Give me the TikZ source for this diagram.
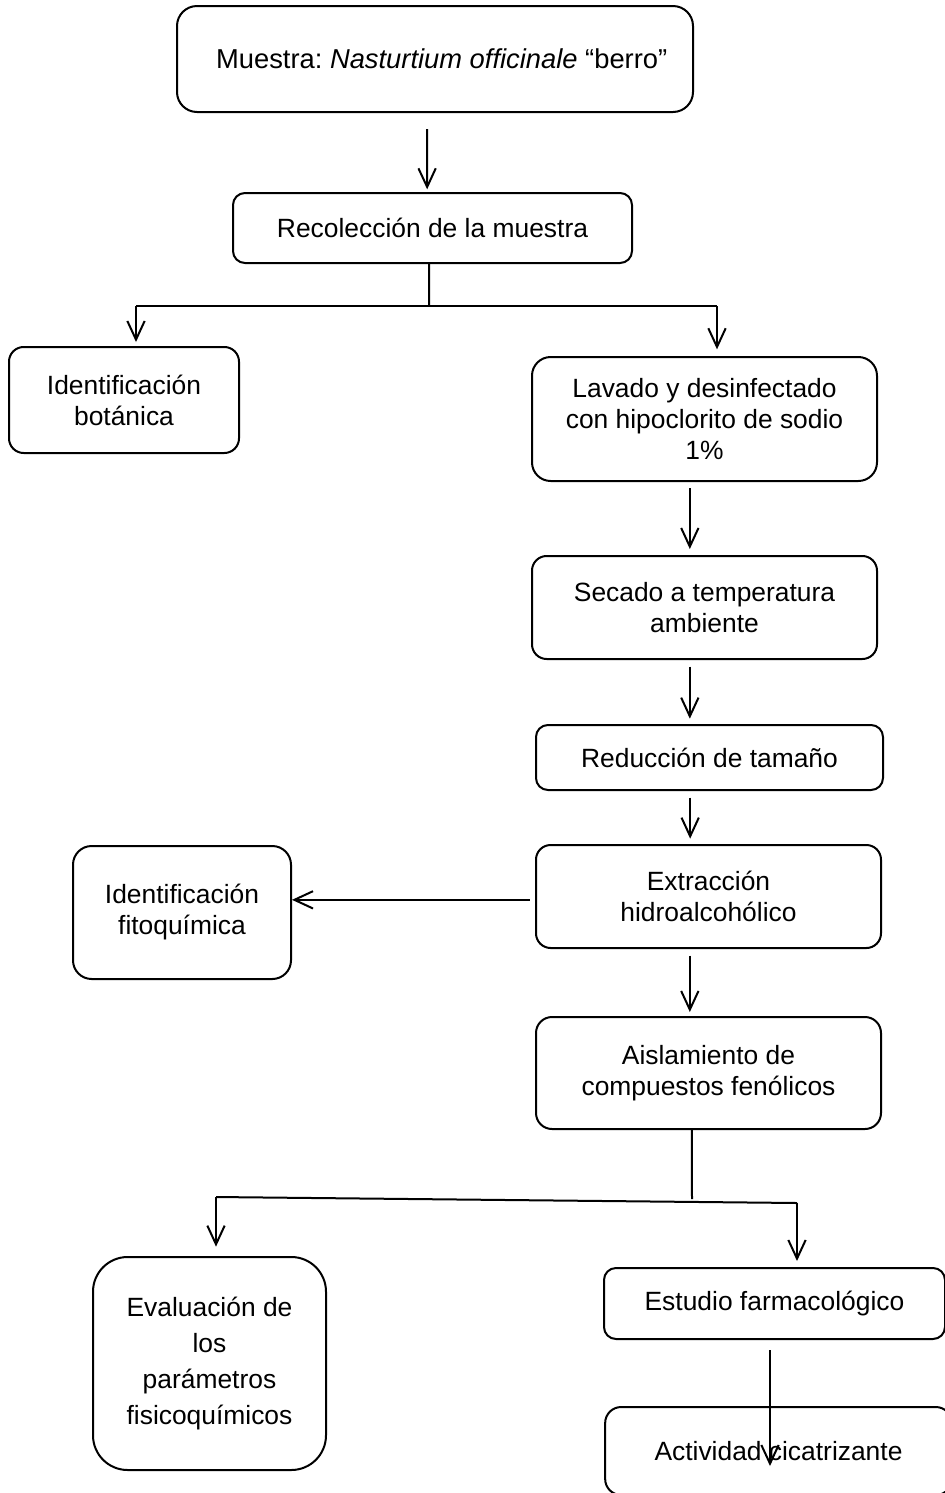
\documentclass[tikz,border=0pt]{standalone}
\usepackage{fontspec}
\setmainfont{Liberation Sans}
\usetikzlibrary{arrows.meta}
\frenchspacing

\tikzset{every picture/.style={line width=1.5pt}}
\tikzset{
	stepbox/.style={draw, rounded corners=#1, inner sep=0pt, align=center,
		font=\fontsize{19.8}{23.25}\selectfont},
	stepbox/.default=10pt,
	arr/.style={-{Straight Barb[length=14pt,width=13pt,line width=1.5pt]}}}

\begin{document}
\begin{tikzpicture}[x=0.75pt,y=0.75pt,yscale=-1,xscale=1]
	\useasboundingbox (0,0) rectangle (945,1493);

	%Rounded Rect [id:muestra] 
	\node [stepbox=15pt, minimum width=387pt, minimum height=79.5pt, font=\fontsize{20.5}{24}\selectfont] (muestra) at (435,59) {\hspace*{10pt}Muestra: \textit{Nasturtium officinale} “berro”};
	%Rounded Rect [id:recol] 
	\node [stepbox=9pt, minimum width=299.25pt, minimum height=52.5pt] (recol) at (432.5,228) {Recolección de la muestra};
	%Rounded Rect [id:botanica] 
	\node [stepbox=11pt, minimum width=172.5pt, minimum height=79.5pt] (botanica) at (124,400) {Identificación\\botánica};
	%Rounded Rect [id:lavado] 
	\node [stepbox=14pt, minimum width=258.75pt, minimum height=93pt] (lavado) at (704.5,419) {Lavado y desinfectado\\con hipoclorito de sodio\\1\%};
	%Rounded Rect [id:secado] 
	\node [stepbox=11pt, minimum width=258.75pt, minimum height=77.25pt] (secado) at (704.5,607.5) {Secado a temperatura\\ambiente};
	%Rounded Rect [id:reduccion] 
	\node [stepbox=9pt, minimum width=260.25pt, minimum height=48.75pt] (reduccion) at (709.5,757.5) {Reducción de tamaño};
	%Rounded Rect [id:extraccion] 
	\node [stepbox=11pt, minimum width=258.75pt, minimum height=77.25pt] (extraccion) at (708.5,896.5) {Extracción\\hidroalcohólico};
	%Rounded Rect [id:fitoquimica] 
	\node [stepbox=14pt, minimum width=163.5pt, minimum height=99.75pt] (fitoquimica) at (182,912.5) {Identificación\\fitoquímica};
	%Rounded Rect [id:aislamiento] 
	\node [stepbox=12pt, minimum width=258.75pt, minimum height=84pt] (aislamiento) at (708.5,1073) {Aislamiento de\\compuestos fenólicos};
	%Rounded Rect [id:evaluacion] 
	\node [stepbox=26pt, minimum width=174.75pt, minimum height=159.75pt, font=\fontsize{19.8}{27}\selectfont] (evaluacion) at (209.5,1363.5) {Evaluación de\\los\\parámetros\\fisicoquímicos};
	%Rounded Rect [id:estudio] 
	\node [stepbox=9pt, minimum width=255.75pt, minimum height=53.25pt] (estudio) at (774.5,1303.5) {Estudio farmacológico};
	%Rounded Rect [id:actividad] 
	\node [stepbox=12pt, minimum width=260pt, minimum height=66pt] (actividad) at (778.5,1451) {Actividad cicatrizante};

	%Straight Lines [id:split1] 
	\coordinate (s1l) at (136,306);
	\coordinate (s1r) at (717,306);
	\coordinate (s1m) at (429,306);
	%Straight Lines [id:split2] 
	\coordinate (s2l) at (216,1197);
	\coordinate (s2r) at (797,1203);
	\coordinate (s2m) at (692,1199);
	\coordinate (tipact) at (770,1466);

	\draw [arr, shorten >=2pt] ([xshift=-6pt,yshift=12pt]muestra.south) -- ([xshift=-4pt]recol.north);
	\draw ([xshift=-2.5pt]recol.south) -- (s1m);
	\draw (s1l) -- (s1r);
	\draw [arr, shorten >=3pt] (s1l) -- (s1l |- botanica.north);
	\draw [arr, shorten >=5pt] (s1r) -- (s1r |- lavado.north);
	\draw [arr, shorten <=4.5pt, shorten >=4.5pt] ([xshift=-11pt]lavado.south) -- ([xshift=-11pt]lavado.south |- secado.north);
	\draw [arr, shorten <=5pt, shorten >=4pt] ([xshift=-11pt]secado.south) -- ([xshift=-11pt]secado.south |- reduccion.north);
	\draw [arr, shorten <=5pt, shorten >=4pt] ([xshift=-14.5pt]reduccion.south) -- ([xshift=-14.5pt]reduccion.south |- extraccion.north);
	\draw [arr, shorten <=4pt] ([yshift=2.5pt]extraccion.west) -- ([yshift=2.5pt]extraccion.west -| fitoquimica.east);
	\draw [arr, shorten <=5pt, shorten >=3pt] ([xshift=-14pt]extraccion.south) -- ([xshift=-14pt]extraccion.south |- aislamiento.north);
	\draw ([xshift=-12.5pt]aislamiento.south) -- (s2m);
	\draw (s2l) -- (s2r);
	\draw [arr, shorten >=7pt] (s2l) -- (s2l |- evaluacion.north);
	\draw [arr, shorten >=4.5pt] (s2r) -- (s2r |- estudio.north);
	\draw [arr] ([yshift=7.5pt]estudio.south -| tipact) -- (tipact);

\end{tikzpicture}
\end{document}
